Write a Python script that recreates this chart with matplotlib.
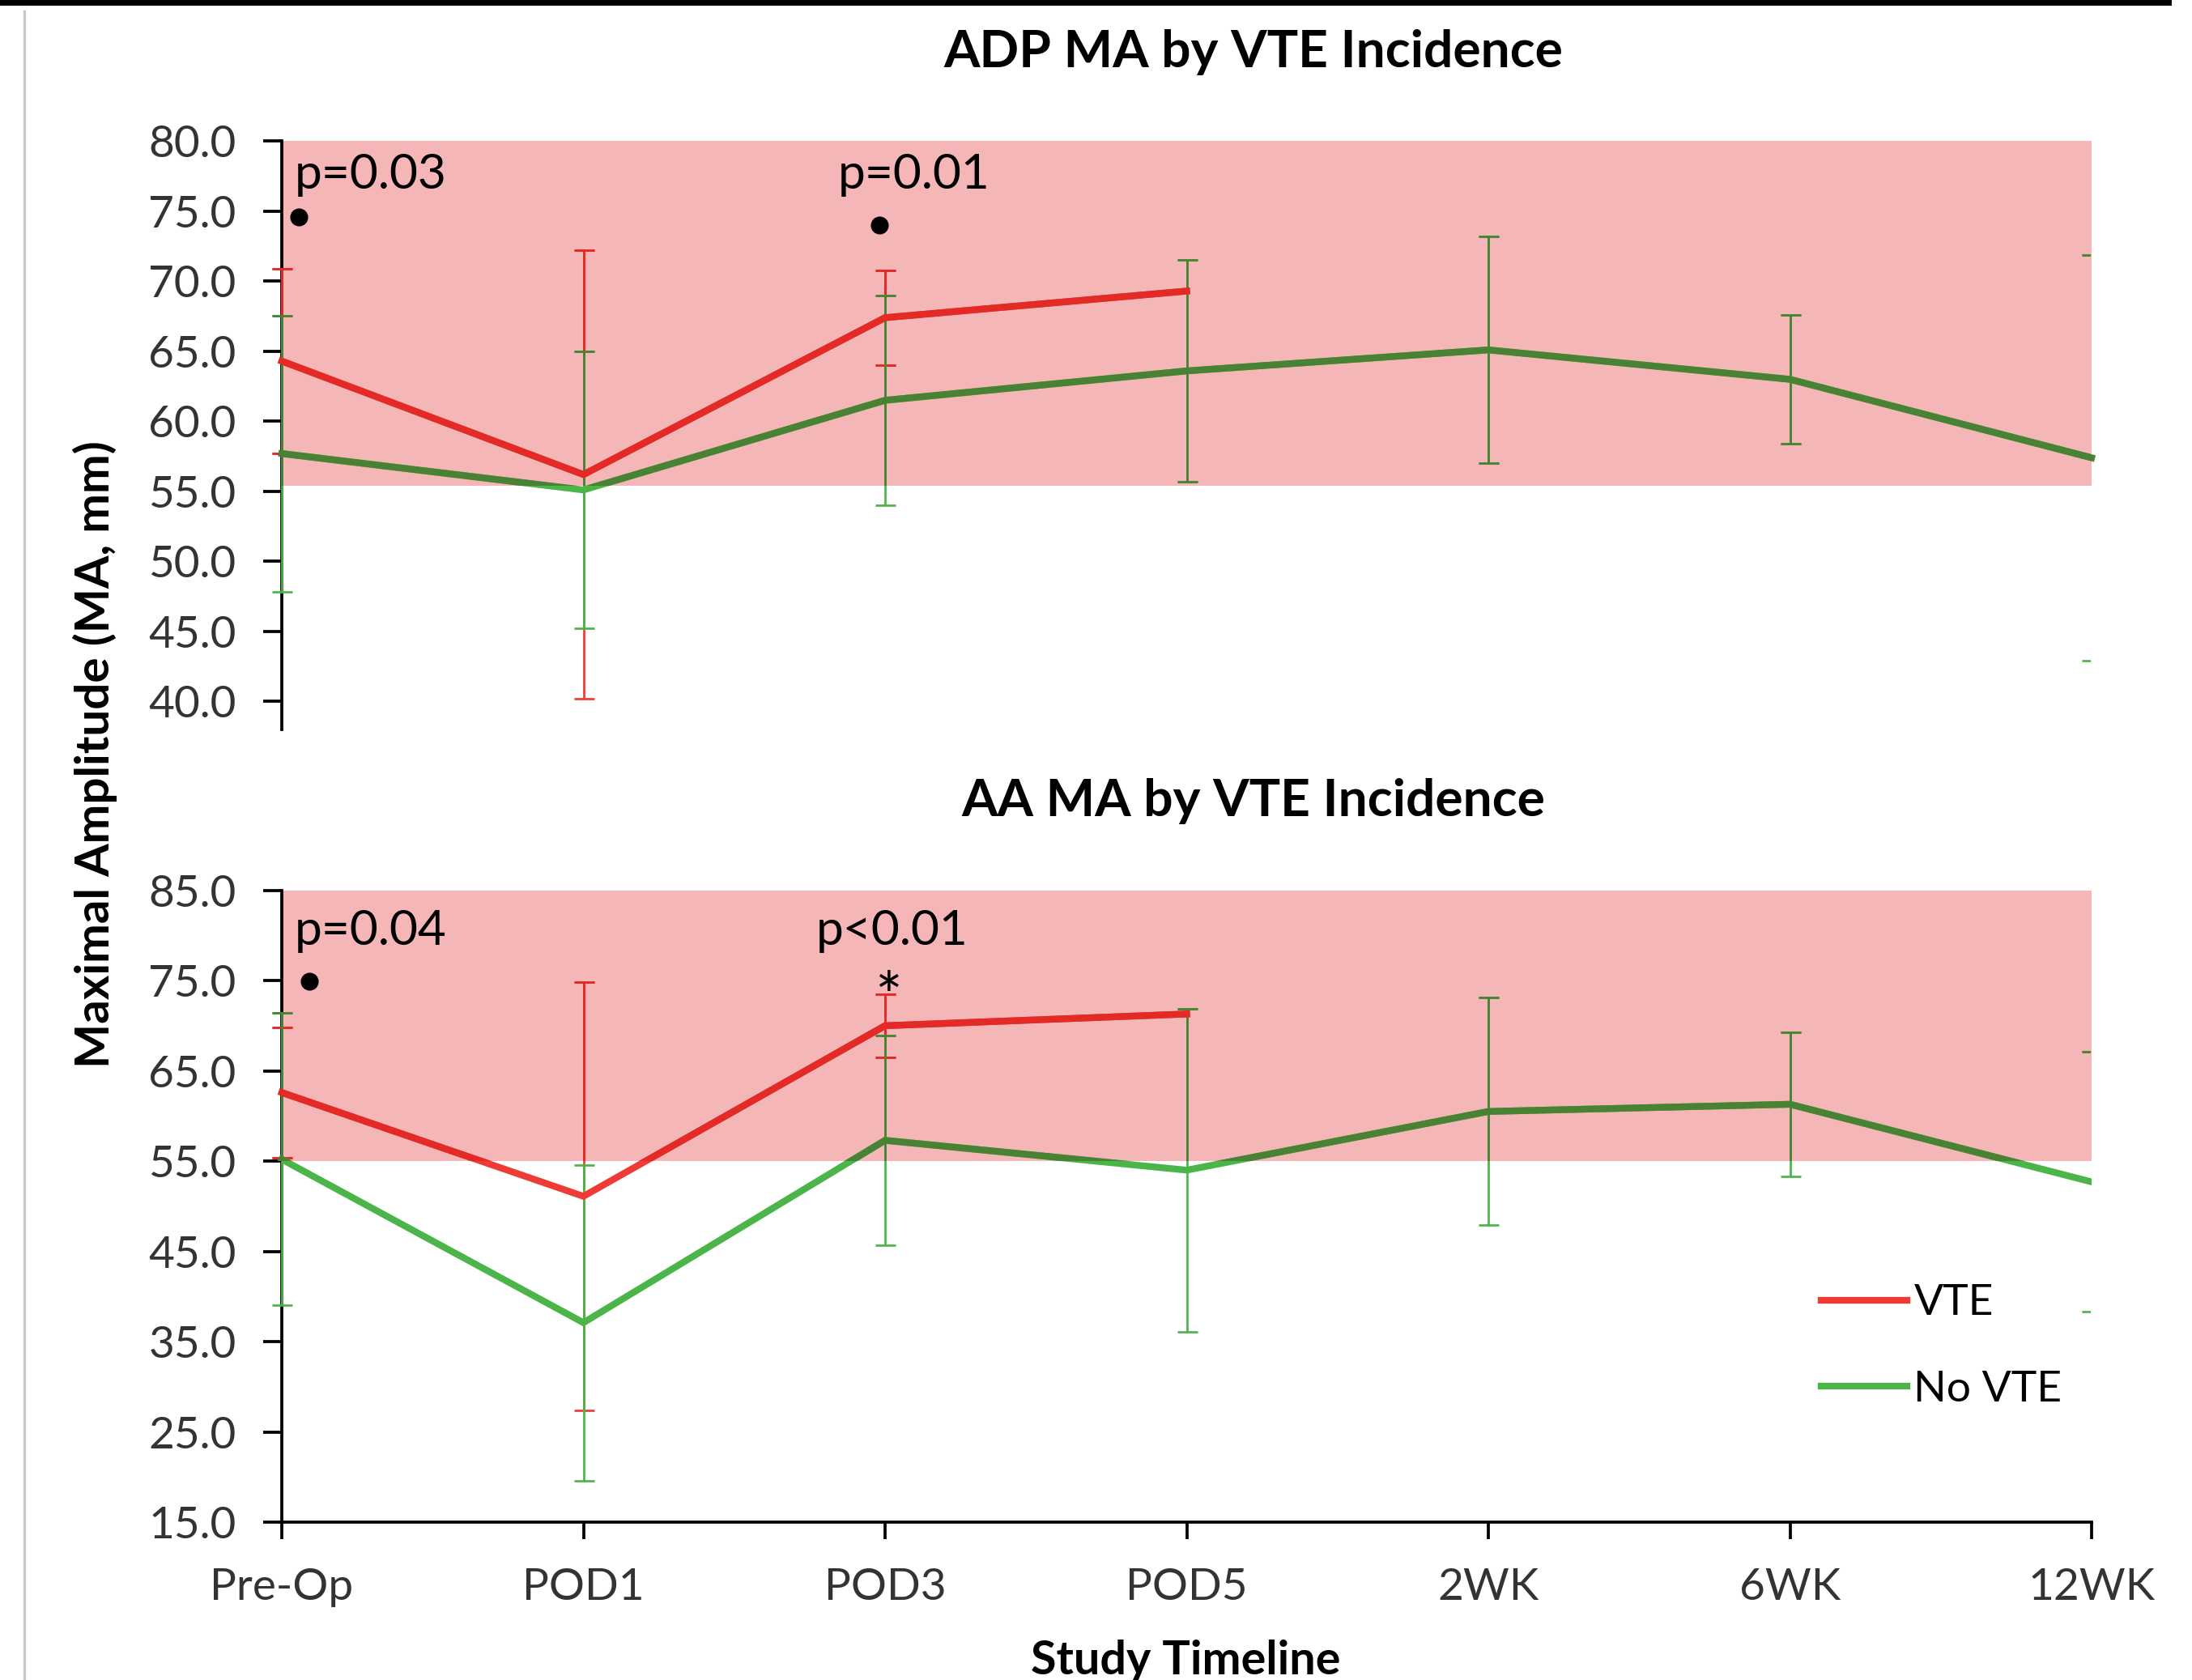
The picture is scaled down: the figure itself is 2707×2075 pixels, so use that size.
import matplotlib
matplotlib.use("Agg")
import matplotlib.pyplot as plt
import numpy as np
from matplotlib import font_manager
from matplotlib.colors import to_rgb
from matplotlib.patches import Rectangle
from matplotlib.lines import Line2D

# data
timeline = ['Pre-Op', 'POD1', 'POD3', 'POD5', '2WK', '6WK', '12WK']
nan = np.nan

vte_adp = [64.3, 56.2, 67.4, 69.3, nan, nan, nan]
vte_adp_err = [6.6, 16.0, 3.4, nan, nan, nan, nan]
novte_adp = [57.7, 55.1, 61.5, 63.6, 65.1, 63.0, 57.4]
novte_adp_err = [9.85, 9.9, 7.5, 7.9, 8.1, 4.6, 14.5]

vte_aa = [62.6, 51.1, 70.0, 71.3, nan, nan, nan]
vte_aa_err = [7.2, 23.7, 3.5, nan, nan, nan, nan]
novte_aa = [55.2, 37.1, 57.3, 54.0, 60.5, 61.3, 52.7]
novte_aa_err = [16.2, 17.5, 11.6, 17.9, 12.6, 8.0, 14.4]

adp_band = (55.4, 80.0)
aa_band = (55.0, 85.0)

# font: pick something close to Calibri
have = {f.name for f in font_manager.fontManager.ttflist}
fam = 'DejaVu Sans'
for f in ['Liberation Sans Narrow', 'Lato', 'Open Sans']:
    if f in have:
        fam = f
        break
plt.rcParams['font.family'] = [fam, 'DejaVu Sans']

RED = '#EE3B36'
GREEN = '#4CB54A'
PINK = '#F4B6B6'
TICKC = '#333333'
LW = 2.0
band_rgb = to_rgb(PINK)
XEND = len(timeline) - 1 - 0.006   # bars at the last category get cut by the plot edge


def in_band(c):
    # the pink band sits over the plot like a multiply layer
    return tuple(a * b for a, b in zip(to_rgb(c), band_rgb))


def draw_series(ax, y, err, color, band, z):
    x = np.arange(len(timeline))
    for k, col in enumerate([color, in_band(color)]):
        cont = ax.errorbar(x, y, yerr=err, fmt='none', ecolor=col, elinewidth=0.65,
                           capsize=3.0, capthick=0.65, zorder=z + k * 0.01)
        ln, = ax.plot(x, y, color=col, lw=LW, solid_joinstyle='miter', zorder=z + 1 + k * 0.01)
        if k == 0:
            rect = Rectangle((-1, -100), XEND + 1, 300, transform=ax.transData)
        else:
            rect = Rectangle((-1, band[0]), XEND + 1, band[1] - band[0], transform=ax.transData)
        for a in list(cont.lines[1]) + list(cont.lines[2]):
            a.set_clip_path(rect)
        if k == 1:
            ln.set_clip_path(Rectangle((-1, band[0]), 9, band[1] - band[0], transform=ax.transData))


def setup_axis(ax, lo, hi, band):
    ax.set_xlim(0, len(timeline) - 1)
    ax.set_ylim(lo, hi)
    ax.axhspan(band[0], band[1], color=PINK, lw=0, zorder=0)
    for s in ['top', 'right']:
        ax.spines[s].set_visible(False)
    ax.spines['left'].set_linewidth(0.9)
    ax.spines['left'].set_zorder(1)
    ax.tick_params(axis='y', direction='out', length=5.5, width=0.9, pad=8,
                   labelsize=13.2, labelcolor=TICKC)
    ax.yaxis.set_major_formatter(matplotlib.ticker.FormatStrFormatter('%.1f'))


fig = plt.figure(figsize=(2707 / 300, 2075 / 300), dpi=300)
left = 348 / 2707
width = 2583 / 2707 - left

# top panel: ADP
ax1 = fig.add_axes([left, 1 - 901 / 2075, width, (901 - 174.4) / 2075])
setup_axis(ax1, 38, 80, adp_band)
ax1.set_yticks(np.arange(40, 80.1, 5))
ax1.spines['bottom'].set_visible(False)
ax1.set_xticks([])
draw_series(ax1, vte_adp, vte_adp_err, RED, adp_band, 2.0)
draw_series(ax1, novte_adp, novte_adp_err, GREEN, adp_band, 2.1)
ax1.set_title('ADP MA by VTE Incidence', fontsize=15.4, fontweight='bold', pad=22, x=0.537)

# bottom panel: AA
ax2 = fig.add_axes([left, 1 - 1880 / 2075, width, (1880 - 1099.7) / 2075])
setup_axis(ax2, 15, 85, aa_band)
ax2.set_yticks(np.arange(15, 85.1, 10))
ax2.spines['bottom'].set_linewidth(0.9)
ax2.set_xticks(np.arange(len(timeline)))
ax2.set_xticklabels(timeline)
ax2.tick_params(axis='x', direction='out', length=5, width=0.9, pad=8.5,
                labelsize=13.2, labelcolor=TICKC)
draw_series(ax2, vte_aa, vte_aa_err, RED, aa_band, 2.0)
draw_series(ax2, novte_aa, novte_aa_err, GREEN, aa_band, 2.1)
ax2.set_title('AA MA by VTE Incidence', fontsize=15.4, fontweight='bold', pad=22, x=0.537)

# significance notes
ax1.text(0.043, 76.6, 'p=0.03', fontsize=14.5, va='baseline', zorder=5)
ax1.text(1.844, 76.6, 'p=0.01', fontsize=14.5, va='baseline', zorder=5)
ax1.plot([0.056, 1.98], [74.6, 74.0], 'o', color='black', ms=4.3, zorder=5, clip_on=False)
ax2.text(0.043, 79.0, 'p=0.04', fontsize=14.5, va='baseline', zorder=5)
ax2.text(1.77, 79.0, 'p<0.01', fontsize=14.5, va='baseline', zorder=5)
ax2.plot([0.09], [74.9], 'o', color='black', ms=4.3, zorder=5, clip_on=False)
ax2.text(2.01, 72.8, '*', fontsize=19, ha='center', va='center', zorder=5)

# legend
handles = [Line2D([], [], color=RED, lw=LW), Line2D([], [], color=GREEN, lw=LW)]
ax2.legend(handles, ['VTE', 'No VTE'], loc='upper left', bbox_to_anchor=(0.829, 0.438),
           frameon=False, fontsize=12.8, handlelength=2.0, handletextpad=0.15,
           labelspacing=1.12)

# shared axis titles
fig.text(117 / 2707, 1 - 932 / 2075, 'Maximal Amplitude (MA, mm)', rotation=90,
         ha='center', va='center', fontsize=14, fontweight='bold')
fig.text(1464 / 2707, 1 - 2025 / 2075, 'Study Timeline', ha='center', va='top',
         fontsize=13.8, fontweight='bold')

# screenshot frame edges
fig.patches.append(Rectangle((0, 1 - 7 / 2075), 2682 / 2707, 7 / 2075, transform=fig.transFigure,
                             color='black', lw=0))
fig.add_artist(Line2D([30 / 2707, 30 / 2707], [0, 1 - 14 / 2075], transform=fig.transFigure,
                      color='#C8C8C8', lw=0.8))

fig.savefig('out.png', dpi=300)
plt.close(fig)
